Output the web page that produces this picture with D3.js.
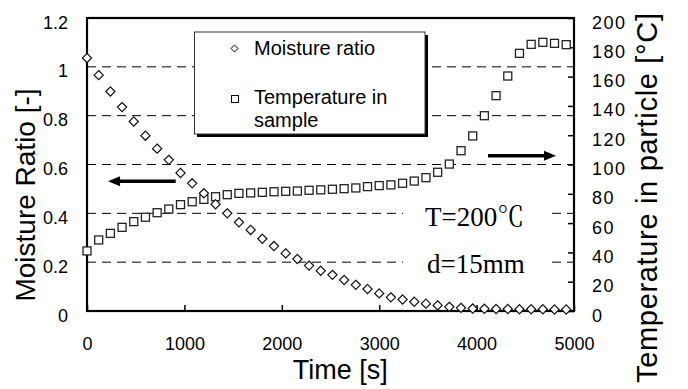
<!DOCTYPE html>
<html>
<head>
<meta charset="utf-8">
<script src="https://cdn.jsdelivr.net/npm/d3@7"></script>
<style>
  html, body { margin: 0; padding: 0; background: #fff; }
  svg { display: block; }
</style>
</head>
<body>
<svg id="chart" width="688" height="389"></svg>
<script>
// ---- data ----
const times = [0,120,240,360,480,600,720,840,960,1080,1200,1320,1440,1560,1680,1800,1920,2040,2160,2280,2400,2520,2640,2760,2880,3000,3120,3240,3360,3480,3600,3720,3840,3960,4080,4200,4320,4440,4560,4680,4800,4920];
const moistureRatio = [1.036,0.966,0.899,0.835,0.776,0.718,0.665,0.619,0.565,0.523,0.482,0.437,0.400,0.363,0.332,0.296,0.266,0.236,0.213,0.186,0.165,0.148,0.127,0.107,0.090,0.072,0.056,0.047,0.038,0.030,0.023,0.017,0.013,0.010,0.009,0.008,0.008,0.007,0.007,0.007,0.006,0.006];
const temperature = [41.0,48.5,53.0,57.1,61.0,64.0,67.1,69.6,72.6,74.6,76.2,78.0,79.4,80.3,80.6,81.0,81.4,81.7,81.9,82.4,82.7,83.1,83.5,84.0,84.9,85.6,86.1,87.2,88.7,91.0,94.7,100.3,109.4,119.5,133.3,147.0,160.4,175.9,182.0,183.4,182.7,181.8];
const xTicks = [0,1000,2000,3000,4000,5000];
const yLeftTicks = [0,0.2,0.4,0.6,0.8,1.0,1.2];
const yRightTicks = [0,20,40,60,80,100,120,140,160,180,200];
const gridValues = [0.2,0.4,0.6,0.8,1.0];
const legendLabels = ["Moisture ratio", ["Temperature in", "sample"]];
const xTitle = "Time [s]";
const yLeftTitle = "Moisture Ratio [-]";
const yRightTitle = "Temperature in particle [\u00B0C]";
const notes = ["T=200\u2103", "d=15mm"];

// ---- layout ----
const L = 87, R = 574, T = 18, B = 311;
const svg = d3.select("#chart");
const x = d3.scaleLinear().domain([0,5000]).range([L,R]);
const yL = d3.scaleLinear().domain([0,1.2]).range([B,T]);
const yR = d3.scaleLinear().domain([0,200]).range([B,T]);
const sans = "'Liberation Sans', Arial, sans-serif";

// gridlines
svg.append("g").selectAll("line").data(gridValues).join("line")
  .attr("x1", L).attr("x2", R)
  .attr("y1", d => yL(d)).attr("y2", d => yL(d))
  .attr("stroke", "#000").attr("stroke-width", 1)
  .attr("stroke-dasharray", "9,6");

// white boxes behind annotation text
const noteY = [226, 273];
const noteG = svg.append("g");
noteG.selectAll("rect").data(notes).join("rect")
  .attr("x", 403).attr("width", 145)
  .attr("y", (d,i) => noteY[i] - 28).attr("height", 38)
  .attr("fill", "#fff");
noteG.selectAll("text").data(notes).join("text")
  .attr("x", (d,i) => i === 0 ? 425 : 427)
  .attr("y", (d,i) => noteY[i])
  .attr("font-family", "'Liberation Serif', 'Times New Roman', 'Noto Serif CJK JP', serif")
  .attr("font-size", 27)
  .attr("fill", "#000")
  .text(d => d);

// axes
const fmtL = d => d3.format("~g")(d);
const fmtX = d => d3.format("d")(d);
const gx = svg.append("g").attr("transform", `translate(0,${B})`)
  .call(d3.axisBottom(x).tickValues(xTicks).tickFormat(fmtX).tickSizeInner(-6).tickSizeOuter(0).tickPadding(26));
gx.select(".domain").remove();
gx.selectAll("line").attr("stroke", "#000").attr("stroke-width", 1.5);
gx.selectAll("text").attr("font-family", sans).attr("font-size", 18).attr("fill", "#000");

const gl = svg.append("g").attr("transform", `translate(${L},0)`)
  .call(d3.axisLeft(yL).tickValues(yLeftTicks).tickFormat(fmtL).tickSize(0).tickPadding(19));
gl.select(".domain").remove();
gl.selectAll("text").attr("font-family", sans).attr("font-size", 18).attr("fill", "#000").attr("dy", "10px");

const gr = svg.append("g").attr("transform", `translate(${R},0)`)
  .call(d3.axisRight(yR).tickValues(yRightTicks).tickSizeInner(-6).tickSizeOuter(0).tickPadding(18));
gr.select(".domain").remove();
gr.selectAll("line").attr("stroke", "#000").attr("stroke-width", 1.5);
gr.selectAll("text").attr("font-family", sans).attr("font-size", 18).attr("fill", "#000")
  .attr("dy", "10px").attr("letter-spacing", "1.5px");

// frame
svg.append("rect").attr("x", L).attr("y", T).attr("width", R - L).attr("height", B - T)
  .attr("fill", "none").attr("stroke", "#000").attr("stroke-width", 2.2);

// axis titles
svg.append("text").attr("x", x(2600)).attr("y", 379)
  .attr("text-anchor", "middle").attr("font-family", sans).attr("font-size", 27)
  .attr("fill", "#000").text(xTitle);
svg.append("text").attr("transform", `translate(35,195) rotate(-90)`)
  .attr("text-anchor", "middle").attr("font-family", sans).attr("font-size", 28)
  .attr("fill", "#000").text(yLeftTitle);
svg.append("text").attr("transform", `translate(657,198) rotate(-90)`)
  .attr("text-anchor", "middle").attr("font-family", sans).attr("font-size", 29)
  .attr("textLength", 370).attr("lengthAdjust", "spacing")
  .attr("fill", "#000").text(yRightTitle);

// arrows
function arrow(x1, x2, yy) {
  const g = svg.append("g");
  const dir = Math.sign(x2 - x1);
  g.append("line").attr("x1", x1).attr("x2", x2 - dir * 8).attr("y1", yy).attr("y2", yy)
    .attr("stroke", "#000").attr("stroke-width", 3.5);
  g.append("path").attr("d", `M${x2},${yy} L${x2 - dir * 12},${yy - 5} L${x2 - dir * 12},${yy + 5} Z`)
    .attr("fill", "#000");
}
arrow(x(911), x(216), yL(0.531));
arrow(x(4117), x(4815), yR(106));

// data marks
const data = times.map((t, i) => ({t, m: moistureRatio[i], temp: temperature[i]}));
const diamond = s => `M0,${-s} L${s},0 L0,${s} L${-s},0 Z`;
svg.append("g").selectAll("rect").data(data).join("rect")
  .attr("x", d => x(d.t) - 4).attr("y", d => yR(d.temp) - 4)
  .attr("width", 8).attr("height", 8)
  .attr("fill", "#fff").attr("stroke", "#222").attr("stroke-width", 1.3);
svg.append("g").selectAll("path").data(data).join("path")
  .attr("transform", d => `translate(${x(d.t)},${yL(d.m)})`)
  .attr("d", diamond(4.6))
  .attr("fill", "#fff").attr("stroke", "#111").attr("stroke-width", 1.2);

// legend
const lg = svg.append("g");
lg.append("rect").attr("x", 197).attr("y", 35).attr("width", 231).attr("height", 102).attr("fill", "#000");
lg.append("rect").attr("x", 194.5).attr("y", 32).attr("width", 230.5).attr("height", 102)
  .attr("fill", "#fff").attr("stroke", "#333").attr("stroke-width", 1);
lg.append("path").attr("transform", "translate(234.5,48.5)").attr("d", diamond(3.5))
  .attr("fill", "#fff").attr("stroke", "#000").attr("stroke-width", 1);
lg.append("rect").attr("x", 231.5).attr("y", 95.5).attr("width", 7).attr("height", 7)
  .attr("fill", "#fff").attr("stroke", "#000").attr("stroke-width", 1);
lg.append("text").attr("x", 254).attr("y", 55).attr("font-family", sans).attr("font-size", 20)
  .attr("fill", "#000").text(legendLabels[0]);
const t2 = lg.append("text").attr("font-family", sans).attr("font-size", 20).attr("fill", "#000");
legendLabels[1].forEach((s, i) => {
  t2.append("tspan").attr("x", 254).attr("y", 104 + i * 23).text(s);
});
</script>
</body>
</html>
